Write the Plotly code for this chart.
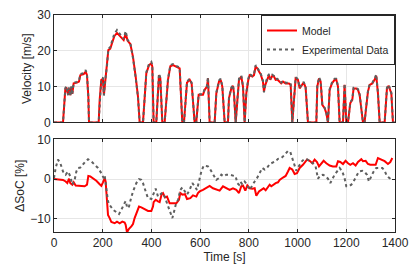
import plotly.graph_objects as go
from plotly.subplots import make_subplots

# ---- Velocity (model) ----
t_vel = [0, 37, 46.5, 50.6, 57.5, 61.6, 67, 71, 75, 80.7, 94.4, 102.6, 108, 121.8, 130, 135.5, 141, 143.7,
         183.4, 187.5, 194.3, 201, 205, 209, 217.6, 223, 231, 239.5, 247.7, 258.6, 266.8, 276.4, 286, 294.2,
         302.4, 313.4, 324.3, 335.3, 344.8, 351.7, 365.4, 379, 390, 399.6, 403.7, 409, 420, 431, 436.5, 444.7,
         454.3, 468, 477.6, 488.5, 502.2, 515.9, 526.8, 533.7, 546, 557, 565, 577.4, 584, 593.9, 611.7, 618.5,
         628, 632.2, 639, 659.6, 666.4, 677.4, 684.2, 691, 700.6, 714.3, 718.4, 728, 734.8, 739, 745.8, 752.6,
         759.5, 769, 775.9, 782.7, 789.6, 797.8, 803.3, 814.2, 821, 827.9, 834.7, 841.6, 848.4, 858, 862, 867.6,
         875.8, 882.6, 888, 896.3, 903, 910, 916.8, 926.4, 933, 940, 951, 964.7, 971.6, 978.4, 983.9, 992,
         1001.7, 1008.5, 1015.4, 1025, 1033, 1042.7, 1077, 1081, 1088, 1094.7, 1101.6, 1111, 1118, 1124.8,
         1131.7, 1141, 1152, 1159, 1165.9, 1172.7, 1186.4, 1193, 1200, 1207, 1216.5, 1224.7, 1230, 1241, 1248,
         1254.8, 1268.5, 1275, 1282, 1289, 1296, 1307, 1316, 1323, 1330, 1337, 1357.5, 1367, 1374, 1385,
         1391.6, 1398.5]
v_model = [0, 0, 9.3, 9.8, 7.8, 9.5, 7.6, 9.8, 8.0, 10.9, 11.1, 11.4, 13.2, 13.5, 14.2, 13.2, 7.2, 0,
           0, 6.3, 11.9, 12.2, 7.7, 10.9, 15.5, 20.2, 20.6, 22.5, 24.1, 25.0, 24.4, 23.7, 23.0, 24.8,
           22.8, 21.9, 18.3, 12.8, 7.2, 0, 0, 13.7, 16.0, 16.5, 15.6, 0, 0, 13.2, 12.3, 0,
           0, 11.9, 15.7, 16.0, 15.6, 15.1, 0, 0, 11.1, 11.9, 10.9, 0, 0, 7.7, 7.7, 9.1,
           10.0, 12.3, 0, 0, 8.1, 11.4, 11.9, 10.0, 0, 0, 6.8, 9.5, 10.2, 8.1, 0, 6.3,
           11.9, 12.8, 10.0, 0, 8.1, 11.9, 13.2, 12.8, 13.2, 15.6, 15.1, 14.2, 13.5, 11.4, 8.6, 10.5,
           12.3, 13.2, 11.9, 13.0, 12.8, 11.9, 12.0, 11.4, 10.9, 11.4, 10.9, 10.9, 10.5, 0, 6.3, 12.3,
           11.9, 9.5, 10.2, 11.1, 9.8, 0, 0, 10.0, 12.3, 11.4, 4.9, 4.0, 2.6, 0,
           9.1, 10.9, 11.9, 11.9, 10.0, 0, 0, 10.5, 0, 0, 5.4, 6.3, 9.5, 9.5, 9.1,
           7.7, 0, 0, 4.4, 8.6, 10.5, 10.9, 11.9, 13.0, 8.1, 0, 0, 9.5, 10.2, 8.1,
           0, 0]
v_exp = [0, 0, 9.6, 10.1, 7.6, 9.8, 7.4, 10.1, 7.8, 11.1, 11.3, 11.6, 13.5, 13.8, 14.6, 13.4, 7.0, 0,
         0, 6.1, 12.2, 12.5, 7.5, 11.1, 15.8, 20.5, 21.0, 23.0, 24.7, 25.8, 25.0, 24.0, 23.3, 25.5,
         23.0, 22.1, 18.0, 12.5, 7.0, 0, 0, 14.0, 16.3, 16.9, 15.9, 0, 0, 13.6, 12.5, 0,
         0, 12.1, 16.0, 16.3, 15.9, 15.3, 0, 0, 11.4, 12.2, 11.1, 0, 0, 7.9, 7.9, 9.3,
         10.2, 12.6, 0, 0, 8.3, 11.7, 12.2, 10.2, 0, 0, 7.0, 9.7, 10.5, 8.0, 0, 6.5,
         12.2, 13.1, 10.2, 0, 8.3, 12.2, 13.5, 13.0, 13.5, 16.0, 15.4, 14.5, 13.7, 11.6, 8.4, 10.7,
         12.6, 13.5, 12.1, 13.3, 13.0, 12.1, 12.2, 11.6, 11.1, 11.6, 11.1, 11.1, 10.7, 0, 6.5, 12.6,
         12.1, 9.7, 10.4, 11.3, 10.0, 0, 0, 10.2, 12.6, 11.6, 5.0, 4.1, 2.7, 0,
         9.3, 11.1, 12.2, 12.2, 10.2, 0, 0, 10.8, 0, 0, 5.6, 6.5, 9.7, 9.7, 9.3,
         7.9, 0, 0, 4.6, 8.8, 10.7, 11.1, 12.2, 13.4, 8.3, 0, 0, 9.7, 10.5, 8.3,
         0, 0]

# ---- Delta SoC (model) ----
t_soc_model = [0, 37, 47.9, 54.7, 61.6, 67, 75.3, 80.7, 89, 105.4, 125.9, 135.5, 141, 149, 160, 173.8, 187.5,
               194.3, 201, 208, 212, 217.6, 221.7, 228.5, 235.4, 249, 258.6, 269.6, 280.5, 290, 294.2, 299.7,
               307.9, 317.5, 324.3, 331, 338, 349, 358.5, 372, 386, 399.6, 406.4, 409, 417.4, 427, 433.8, 442,
               447.5, 455.7, 463.9, 474.8, 488.5, 502.2, 513, 518.6, 526.8, 537.8, 546, 559.7, 570.6, 584.3,
               591, 598, 611.7, 625.4, 639, 652.7, 666.4, 680, 693.8, 707.5, 721, 734.8, 748.5, 759.5, 769,
               776, 785.5, 793.7, 803.3, 814.2, 823.8, 830.6, 841.6, 851, 860.7, 869, 878.5, 885.4, 892.2,
               901.8, 910, 919.6, 926.4, 940, 951, 960.6, 967.5, 978.4, 988, 997.6, 1008.5, 1022, 1038.6,
               1049.6, 1060.5, 1070, 1079.7, 1088, 1097.5, 1107, 1118, 1131.7, 1145, 1159, 1165.9, 1175.5,
               1186.4, 1197, 1207, 1216.5, 1227.5, 1238.4, 1248, 1261.7, 1268.5, 1279.5, 1289, 1298.6,
               1309.6, 1320.5, 1330, 1343.8, 1357.5, 1371, 1380.7, 1389]
soc_model = [0, -0.2, -0.6, -1.0, 0.1, -1.0, -1.4, -0.8, -1.6, -1.7, -1.8, -1.4, 0.8, 0.7, 0.25, -0.4, -1.3,
             -1.7, -0.8, 0.25, -0.6, -4.8, -9.0, -9.8, -10.8, -11.1, -10.7, -11.1, -10.7, -10.9, -11.5, -13.4,
             -12.5, -11.9, -11.3, -9.8, -8.6, -6.9, -7.1, -7.5, -8.0, -8.0, -6.9, -5.8, -5.2, -5.6, -5.8, -3.8,
             -3.5, -4.6, -4.4, -6.1, -6.1, -6.1, -5.2, -3.5, -3.9, -3.8, -5.0, -4.8, -4.1, -4.4,
             -3.5, -3.1, -2.7, -2.3, -1.7, -2.3, -2.7, -2.9, -1.8, -2.3, -2.7, -2.3, -2.7, -3.5, -1.8,
             -1.6, -2.9, -1.6, -2.3, -2.4, -2.3, -4.2, -3.1, -2.7, -2.3, -2.8, -1.8, -1.4, -1.8,
             -1.3, -1.0, -0.8, -0.2, 0.4, 0.8, 1.9, 2.8, 2.4, 1.3, 1.5, 2.8, 3.6, 4.9,
             4.6, 4.0, 4.9, 4.3, 3.2, 4.0, 4.6, 4.0, 3.4, 3.2, 3.2, 4.5, 4.3,
             3.8, 4.6, 4.0, 3.6, 4.0, 3.4, 4.3, 5.0, 4.5, 4.6, 3.8, 3.6,
             3.6, 3.6, 5.3, 4.9, 4.5, 3.8, 4.3, 5.3]

# ---- Delta SoC (experimental) ----
t_soc_exp = [0, 6.8, 16.4, 26, 37, 47.9, 57.5, 67, 75.3, 84.8, 91.7, 98.5, 108, 119, 130, 139.6, 153, 167,
             180.6, 194.3, 204, 208, 214.8, 221.7, 228.5, 242.2, 255.9, 266.8, 276.4, 287.4, 294.2, 301,
             307.9, 314.7, 324.3, 338, 349, 358.5, 365.4, 376.3, 385.9, 399.6, 409, 417.4, 427, 436.5,
             444.7, 454.3, 463.9, 474.8, 485.8, 491.2, 499.5, 509, 518.6, 526.8, 536.4, 546, 557, 568,
             577.4, 587, 595.2, 604.8, 614.4, 632.2, 641.8, 652.7, 666.4, 677.4, 687, 696.5, 707.5, 721,
             734.8, 745.8, 752.6, 759.5, 765, 773, 782.7, 792.3, 803.3, 814.2, 823.8, 833.4, 844.3, 855.3,
             864.8, 874.4, 885.4, 899, 910, 919.6, 933, 947, 960.6, 970.2, 978.4, 988, 994.8, 1001.7,
             1011.2, 1019.5, 1029, 1038.6, 1049.6, 1063, 1074, 1083.8, 1093.4, 1104.3, 1115, 1124.8,
             1134.4, 1142.6, 1152, 1161.8, 1172.7, 1183.7, 1193, 1200, 1211, 1220.6, 1230, 1241, 1252,
             1265.8, 1275.3, 1285, 1293, 1302.7, 1312.3, 1323, 1337, 1348, 1357.5, 1367, 1378, 1389]
soc_exp = [0.25, 2.8, 4.9, 4.0, 1.9, 1.1, 1.9, 0.7, -1.4, -0.2, 1.9, 2.8, 2.9, 3.8, 4.5, 5.0, 4.5, 3.6,
           2.8, 1.5, 0.25, 0.9, -2.3, -5.6, -6.5, -7.7, -8.3, -8.8, -7.7, -6.5, -5.5, -7.3,
           -6.9, -5.2, -3.1, -1.0, 0, -0.2, -1.0, -3.1, -4.8, -5.0, -3.5, -2.4, -4.4, -3.9,
           -3.4, -4.4, -6.1, -8.3, -9.8, -8.6, -6.5, -5.2, -2.7, -2.1, -3.1, -3.9, -2.7, -1.0,
           -1.8, -2.7, -0.6, 1.9, 3.4, 3.2, 2.4, 1.1, -0.2, 0.25, 1.1, 0.7, 1.1, 1.1,
           0.9, 0.7, -1.0, -1.4, -0.6, -1.3, -0.6, -1.4, -2.7, -1.4, -0.6, 0.25, 1.5, 2.8,
           2.4, 2.8, 3.8, 4.3, 4.5, 5.1, 5.3, 6.1, 7.1, 6.8, 5.3, 3.2, 2.1, 2.9,
           4.0, 4.6, 5.1, 5.0, 4.5, 4.0, 3.2, 0.1, 0.9, 1.1, 0.7, 0.1,
           -1.0, 0.1, 1.1, 1.9, 2.8, 1.9, 0.25, -1.8, -1.8, -1.4, -0.6, 0.7, 1.9,
           2.1, 1.8, 1.1, -0.6, 0.7, 1.9, 2.8, 2.9, 2.8, 2.1, 0.7, 0.25, 0.9]

x_ticks = [0, 200, 400, 600, 800, 1000, 1200, 1400]
vel_ticks = [0, 10, 20, 30]
soc_ticks = [-10, 0, 10]

RED = "#ff0000"
GRAY = "#5f5f5f"
AX = "#262626"
GRID = "#e6e6e6"
FONT = "Liberation Sans"

fig = make_subplots(rows=2, cols=1)

fig.add_trace(go.Scatter(x=t_vel, y=v_model, mode="lines", name="Model",
                         line=dict(color=RED, width=2)), row=1, col=1)
fig.add_trace(go.Scatter(x=t_vel, y=v_exp, mode="lines", name="Experimental Data",
                         line=dict(color=GRAY, width=2, dash="dot")), row=1, col=1)
fig.add_trace(go.Scatter(x=t_soc_model, y=soc_model, mode="lines", showlegend=False,
                         line=dict(color=RED, width=2)), row=2, col=1)
fig.add_trace(go.Scatter(x=t_soc_exp, y=soc_exp, mode="lines", showlegend=False,
                         line=dict(color=GRAY, width=2, dash="dot")), row=2, col=1)

axis_common = dict(showline=True, linecolor=AX, linewidth=1, mirror="ticks", ticks="inside",
                   ticklen=3, tickcolor=AX, showgrid=True, gridcolor=GRID, gridwidth=1,
                   zeroline=False, automargin=False,
                   tickfont=dict(size=12, color=AX, family=FONT))

fig.update_xaxes(**axis_common, range=[0, 1400], tickvals=x_ticks)
fig.update_xaxes(showticklabels=False, row=1, col=1)
fig.update_xaxes(title=dict(text="Time [s]", font=dict(size=12, color=AX, family=FONT), standoff=2),
                 row=2, col=1)
fig.update_yaxes(**axis_common)
fig.update_yaxes(range=[0, 30], tickvals=vel_ticks,
                 title=dict(text="Velocity [m/s]", font=dict(size=12, color=AX, family=FONT), standoff=3),
                 row=1, col=1)
fig.update_yaxes(range=[-13.3, 10], tickvals=soc_ticks,
                 title=dict(text="ΔSoC [%]", font=dict(size=12, color=AX, family=FONT), standoff=3),
                 row=2, col=1)

fig.update_layout(
    width=415, height=271,
    margin=dict(l=54, r=20, t=15, b=39, autoexpand=False),
    paper_bgcolor="white", plot_bgcolor="white",
    font=dict(family=FONT, color=AX, size=12),
    showlegend=True,
    legend=dict(x=1, y=1, xanchor="right", yanchor="top", bgcolor="white",
                bordercolor=AX, borderwidth=1, font=dict(size=10.5, color=AX, family=FONT),
                itemwidth=30, tracegroupgap=0),
    yaxis=dict(domain=[0.505, 1.0]),
    yaxis2=dict(domain=[0.0, 0.427]),
)

fig.write_html("out.html", config={"displayModeBar": False},
               post_script="document.body.style.margin='0px';")
